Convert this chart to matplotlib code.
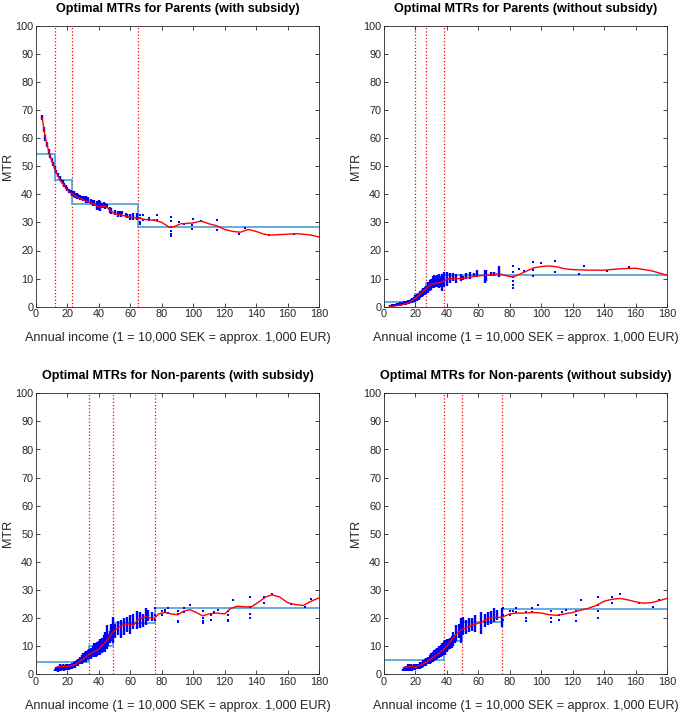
import numpy as np
import matplotlib
matplotlib.use('Agg')
import matplotlib.pyplot as plt

plt.rcParams['font.family'] = ['Liberation Sans', 'DejaVu Sans']

# ---------------- Parents, with subsidy ----------------
p1_title = 'Optimal MTRs for Parents (with subsidy)'
p1_vlines = [12, 23, 65]
p1_step_x = [0, 12, 23, 65, 180]
p1_step_y = [54.2, 45, 36.5, 28.5]
p1_curve_x = [4, 6, 8, 10, 12, 14, 16, 18, 20, 22, 24, 26, 28, 30, 35, 40, 44, 48, 50, 55, 60, 65,
              70, 75, 80, 85, 88, 92, 100, 105, 110, 115, 120, 125, 130, 135, 140, 145, 150, 160,
              165, 170, 175, 180]
p1_curve_y = [67, 60, 55.5, 52, 49, 46.5, 44.5, 43, 41.5, 40.5, 39.8, 39, 38.5, 38, 37, 35.5, 35.8,
              34, 33, 32.5, 31.8, 31.5, 31, 30.8, 30, 28.2, 28.5, 29.5, 29.8, 30.5, 29.5, 28.8, 27.5,
              26.8, 26.5, 27.5, 26.8, 25.8, 25.5, 25.8, 26, 25.8, 25.5, 24.8]
p1_col_x = [4, 5, 6, 7, 8, 9, 10, 11, 12, 13, 14, 15, 16, 17, 18, 19, 20, 21, 22, 23, 24, 25, 26,
            27, 28, 29, 30, 31, 32, 33, 35, 36, 37, 39, 40, 41, 42, 43, 44, 45, 47, 48, 50, 52, 53,
            54, 55, 57, 58, 60, 62, 64]
p1_col_lo = [66.5, 62, 59, 57, 54.5, 53, 51.5, 50, 48.5, 47.5, 46, 45, 44.3, 43.5, 42.5, 42, 41,
             40.5, 40, 39.5, 39, 38.8, 38.5, 38.3, 38, 37.8, 37.5, 37.5, 37, 37, 36.5, 36, 36, 34.5,
             34.5, 34, 35, 35, 34.8, 35, 33.5, 33, 32.5, 32, 32.5, 32, 33, 32, 31.5, 31, 31, 31]
p1_col_hi = [68.3, 64, 61, 58.5, 56, 54.5, 53, 51.5, 50, 48.5, 47.5, 46.5, 45.5, 45, 44, 43.3,
             42.5, 42, 41.5, 41, 41, 40.5, 40.5, 40, 39.8, 39.5, 39.5, 39.5, 39.3, 39, 38.5, 38, 38,
             37.5, 37.8, 37.5, 37, 37.2, 36.8, 36.5, 35.5, 35, 34.5, 34, 34, 34.2, 34, 33.5, 33, 33,
             33.5, 33.5]
p1_pt_x = [66, 66, 66, 66, 68, 68, 72, 72, 75, 77, 77, 86, 86, 86, 86, 86, 86, 91, 94, 99, 99,
           100, 105, 115, 115, 129, 133, 148, 164]
p1_pt_y = [32.8, 31.5, 30, 29.5, 32.5, 31, 31.5, 31, 31, 32.5, 31, 32, 30.5, 28.5, 27, 26, 25,
           30.2, 29.5, 27.5, 29, 31.2, 30.5, 30.7, 27.2, 25.8, 28, 25.5, 26]

# ---------------- Parents, without subsidy ----------------
p2_title = 'Optimal MTRs for Parents (without subsidy)'
p2_vlines = [19.5, 27, 38]
p2_step_x = [0, 19.5, 27, 38, 180]
p2_step_y = [1.5, 4.5, 8.5, 11.3]
p2_curve_x = [4, 10, 15, 20, 25, 30, 35, 38, 40, 45, 50, 55, 60, 65, 70, 73, 78, 82, 86, 90, 95,
              100, 105, 110, 115, 120, 130, 140, 150, 160, 170, 175, 180]
p2_curve_y = [0, 0.5, 1.2, 3, 5.5, 8, 8.5, 9, 9.8, 10, 10, 10.5, 11, 11.2, 11.5, 11.8, 11, 10.5,
              11.5, 12.5, 13.8, 14.3, 14.5, 14.2, 13.5, 13.2, 13, 13, 13.5, 13.7, 12.8, 12, 11.2]
p2_col_x = [4, 5, 6, 7, 8, 9, 10, 11, 12, 13, 14, 15, 16, 17, 18, 19, 20, 21, 22, 23, 24, 25, 26,
            27, 28, 29, 30, 31, 32, 33, 34, 35, 36, 37, 38, 40, 42, 44, 46, 49, 50, 52, 55, 57,
            59, 64, 65, 68, 70, 73]
p2_col_lo = [0, 0, 0, 0.2, 0.2, 0.3, 0.3, 0.4, 0.5, 0.6, 0.7, 0.8, 1, 1.2, 1.4, 1.6, 1.8, 2, 2.5,
             3, 3.3, 3.8, 4.2, 4.5, 5, 5.5, 6, 6.5, 6.5, 7, 7, 6.5, 7, 5.5, 7, 7.5, 8.5, 9, 8.5,
             9, 9.5, 10, 10, 10.5, 10.5, 8.5, 9, 11, 11, 10.5]
p2_col_hi = [0.5, 0.8, 0.9, 1, 1.2, 1.3, 1.5, 1.7, 1.8, 2, 2.1, 2.3, 2.5, 2.8, 3.2, 3.6, 4, 4.5,
             5, 5.5, 6, 6.5, 7, 7.5, 8.8, 9.5, 10, 11, 11.2, 11, 11.3, 11.5, 11, 11.5, 12.2, 12.3,
             12, 12, 11.8, 11.5, 11, 12, 12.3, 12, 13, 13, 13.2, 12.3, 12.3, 14.5]
p2_pt_x = [82, 82, 82, 82, 82, 82, 86, 89, 95, 95, 95, 100, 109, 109, 124, 127, 142, 156]
p2_pt_y = [6.8, 7.8, 9, 10.5, 12.3, 14.6, 13.5, 12.8, 11, 13, 15.8, 15.5, 12.3, 16.2, 11.5, 14.6,
           12.6, 14]

# ---------------- Non-parents, with subsidy ----------------
p3_title = 'Optimal MTRs for Non-parents (with subsidy)'
p3_vlines = [33.5, 49, 75.5]
p3_step_x = [0, 33.5, 49, 75.5, 180]
p3_step_y = [4.5, 10, 18.2, 23.5]
p3_curve_x = [13, 16, 20, 25, 30, 35, 40, 45, 48, 52, 55, 58, 62, 65, 70, 73, 75, 78, 82, 86, 90,
              94, 98, 102, 106, 110, 115, 120, 124, 128, 133, 137, 141, 146, 150, 155, 160, 165,
              170, 175, 180]
p3_curve_y = [2.5, 2.8, 2.8, 3.5, 5.5, 7.5, 9, 12, 14.5, 16.5, 17.5, 18, 17.5, 19.5, 20.5, 20,
              19.8, 21.5, 22, 21.5, 21.2, 22.5, 23, 22, 20.8, 21.5, 21.8, 21.5, 23.5, 24.2, 24, 24,
              25.5, 27.5, 28.3, 27.5, 25.5, 24.8, 24.5, 26, 27.2]
p3_col_x = [12, 13, 14, 15, 16, 17, 18, 19, 20, 21, 22, 23, 24, 25, 26, 27, 28, 29, 30, 31, 32,
            33, 34, 35, 36, 37, 38, 39, 40, 41, 42, 43, 44, 45, 46, 47, 48, 49, 50, 52, 54, 56,
            58, 60, 62, 64, 66, 68, 70, 71, 74]
p3_col_lo = [1, 1, 0.8, 1, 1.2, 1.5, 1.2, 1.5, 1.5, 1.5, 1.8, 2, 2.2, 2.3, 2.8, 3, 3.5, 3.8, 4,
             4.5, 4.5, 5, 5.5, 5.5, 6, 6, 6.2, 6.5, 7, 7, 7.5, 8, 8, 9, 10, 11, 12, 11, 13, 14,
             13, 14, 15, 14.5, 16, 16, 16.5, 17, 17.5, 19, 19]
p3_col_hi = [2, 2.5, 3, 3.5, 3.3, 3.5, 3.3, 3.5, 3.8, 3.6, 3.8, 4, 4.2, 4.6, 5.2, 5.6, 6.2, 7,
             7.5, 8, 8.3, 8.5, 9, 9.5, 10, 11, 11, 11.5, 12, 12.5, 13, 14, 15, 17.5, 14.5, 15.5,
             18, 20.5, 18, 19, 19.5, 20, 20.5, 21, 21.5, 22.5, 22, 21.5, 23.5, 23, 22]
p3_pt_x = [76, 76, 76, 80, 80, 82, 82, 84, 84, 90, 90, 90, 90, 94, 94, 98, 106, 106, 106, 106,
           111, 111, 113, 116, 122, 122, 122, 122, 125, 136, 136, 136, 136, 145, 145, 150, 162,
           171, 175]
p3_pt_y = [19.5, 21, 23.5, 21, 22.5, 22.3, 23, 21.8, 23.5, 18.5, 19, 21.5, 22.5, 22, 23.5, 24.5,
           18.3, 19, 20, 22.5, 19.5, 21, 22.3, 23, 18.8, 19.5, 21.2, 22.5, 26.5, 20.2, 21.5, 24,
           27.5, 25.5, 27.5, 28.5, 25, 24, 26.8]

# ---------------- Non-parents, without subsidy ----------------
p4_title = 'Optimal MTRs for Non-parents (without subsidy)'
p4_vlines = [38, 49.5, 75]
p4_step_x = [0, 38, 49.5, 75, 180]
p4_step_y = [5.2, 11.8, 18.5, 23.3]
p4_curve_x = [13, 17, 20, 25, 30, 35, 40, 44, 48, 52, 56, 62, 66, 70, 75, 80, 85, 90, 95, 100,
              105, 110, 115, 120, 125, 130, 135, 140, 145, 150, 155, 160, 165, 170, 175, 180]
p4_curve_y = [2.5, 2.8, 2.5, 3.8, 5.5, 7.5, 10, 13, 15.5, 16.5, 17.5, 18.5, 19.8, 20.2, 20.3,
              21.5, 21.8, 21.8, 22, 21.8, 21.2, 21, 21.5, 22, 22.8, 23.5, 24.5, 26, 26.7, 27, 26.5,
              25.8, 25.3, 25.5, 26.2, 27]
p4_col_x = [12, 13, 14, 15, 16, 17, 18, 19, 20, 21, 22, 23, 24, 25, 26, 27, 28, 29, 30, 31, 32,
            33, 34, 35, 36, 37, 38, 39, 40, 41, 42, 43, 44, 45, 46, 48, 49, 50, 52, 54, 56, 58,
            62, 64, 66, 68, 70, 72, 75]
p4_col_lo = [1, 1, 1, 1, 1.2, 1.3, 1.2, 1.5, 1.5, 1.8, 1.8, 2, 2.3, 2.5, 2.8, 3, 3.5, 3.8, 4,
             4.5, 4.8, 5, 5.5, 5.8, 6, 6.5, 6.8, 7, 8, 8.5, 9, 9.5, 10, 11, 12, 13, 11, 14, 14.5,
             15, 15.5, 15, 14.5, 17, 17.5, 18, 18.5, 19.5, 17]
p4_col_hi = [2, 2.5, 3, 3.5, 3.5, 3.5, 3.2, 3.5, 3.8, 3.5, 3.8, 4.2, 4.5, 5, 5.5, 5.8, 6.3, 7,
             7.5, 8, 8.5, 9, 9.5, 10, 10.5, 11, 12, 12.3, 12.5, 12.5, 12.8, 13.5, 15, 14, 17.5,
             18, 20, 20.3, 19.5, 20, 20, 21, 22, 21.5, 22, 22.5, 23.5, 23, 23.5]
p4_pt_x = [76, 76, 76, 80, 80, 82, 84, 84, 90, 90, 90, 94, 94, 98, 106, 106, 106, 111, 111, 113,
           116, 122, 122, 122, 125, 136, 136, 136, 136, 145, 145, 150, 162, 171, 175]
p4_pt_y = [19.5, 21, 23.5, 21, 22.5, 22.5, 22, 23.5, 18.8, 20, 22, 22, 23.5, 24.5, 18.5, 20,
           22.5, 19.5, 21, 22.3, 23, 18.8, 21, 22.5, 26.5, 20.2, 22.5, 24.5, 27.5, 25.5, 27.5,
           28.5, 25.2, 24, 26.5]

panels = [
    (p1_title, p1_vlines, p1_step_x, p1_step_y, p1_curve_x, p1_curve_y,
     p1_col_x, p1_col_lo, p1_col_hi, p1_pt_x, p1_pt_y),
    (p2_title, p2_vlines, p2_step_x, p2_step_y, p2_curve_x, p2_curve_y,
     p2_col_x, p2_col_lo, p2_col_hi, p2_pt_x, p2_pt_y),
    (p3_title, p3_vlines, p3_step_x, p3_step_y, p3_curve_x, p3_curve_y,
     p3_col_x, p3_col_lo, p3_col_hi, p3_pt_x, p3_pt_y),
    (p4_title, p4_vlines, p4_step_x, p4_step_y, p4_curve_x, p4_curve_y,
     p4_col_x, p4_col_lo, p4_col_hi, p4_pt_x, p4_pt_y),
]

W, H = 685, 715
# axes rectangles in pixels: left, top(y of 100), width, height
rects = [(36, 25.7, 283, 281), (384, 25.7, 283, 281),
         (36, 393.3, 283, 281), (384, 393.3, 283, 281)]

dark = '#262626'
step_col = '#4A9FD8'

fig = plt.figure(figsize=(W / 100, H / 100), dpi=100)

for (title, vl, sx, sy, cx, cy, colx, collo, colhi, ptx, pty), (l, t, w, h) in zip(panels, rects):
    ax = fig.add_axes([l / W, (H - t - h) / H, w / W, h / H])
    # step function (optimal bracket rates)
    ax.stairs(sy, sx, baseline=None, color=step_col, lw=1.2, zorder=2)
    # dense simulated points
    ax.vlines(colx, collo, colhi, color='#0000FF', lw=1.7, zorder=3)
    ax.scatter(ptx, pty, s=4, color='#0000FF', marker='s', lw=0, zorder=3)
    ax.plot(cx, cy, color='#FF0000', lw=1.0, zorder=4)
    for x in vl:
        ax.axvline(x, color='#FF0000', ls=':', lw=0.9, zorder=1)
    ax.set_xlim(0, 180)
    ax.set_ylim(0, 100)
    ax.set_xticks(np.arange(0, 181, 20))
    ax.set_yticks(np.arange(0, 101, 10))
    ax.tick_params(direction='in', length=3, width=0.6, colors=dark, labelsize=7.8,
                   top=True, right=True, pad=2)
    for sp in ax.spines.values():
        sp.set_color(dark)
        sp.set_linewidth(0.6)
    ax.set_title(title, fontsize=9.1, fontweight='bold', color='black', pad=10)
    ax.set_xlabel('Annual income (1 = 10,000 SEK = approx. 1,000 EUR)', fontsize=9.1,
                  color=dark, labelpad=9)
    ax.set_ylabel('MTR', fontsize=9.1, color=dark, labelpad=1)

fig.savefig('out.png', dpi=100)
